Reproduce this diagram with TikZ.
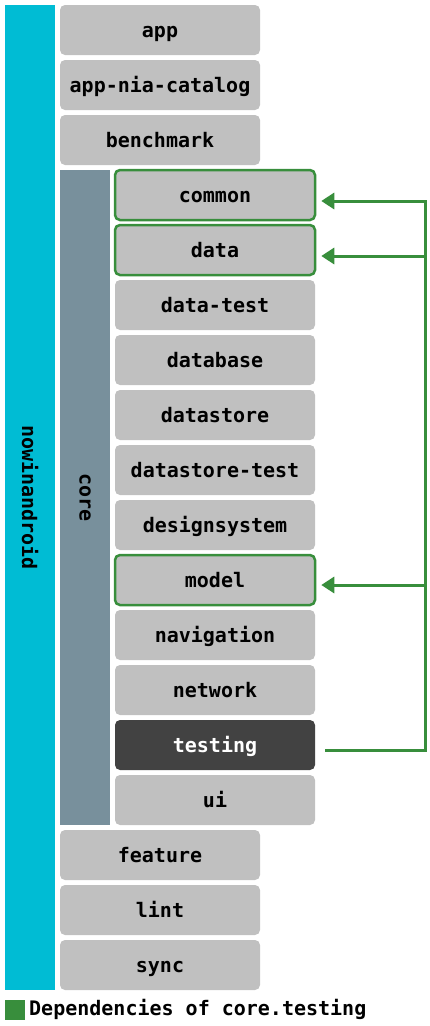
\documentclass[tikz,border=0pt]{standalone}
\usepackage{fontspec}
\setmonofont{DejaVu Sans Mono}
\usepackage{tikz}
\usetikzlibrary{positioning}
\usetikzlibrary{arrows.meta}

\definecolor{nia}{HTML}{00BCD4}
\definecolor{corebar}{HTML}{78909C}
\definecolor{modbox}{HTML}{C0C0C0}
\definecolor{testbox}{HTML}{424242}
\definecolor{depgreen}{HTML}{388E3C}

\tikzset{
	labelfont/.style={font=\ttfamily\bfseries\fontsize{20}{20}\selectfont},
	module/.style={fill=modbox, rounded corners=5pt, minimum width=200pt, minimum height=50pt,
		inner sep=0pt, text height=16pt, text depth=2pt, labelfont},
	depbox/.style={module, draw=depgreen, line width=2.5pt},
	testingbox/.style={module, fill=testbox, text=white},
	dep/.style={draw=depgreen, line width=3pt},
	deparrow/.style={dep, -{Triangle[length=13pt,width=16pt]}}
}

\begin{document}
\begin{tikzpicture}[x=1pt, y=-1pt]
	
	% canvas: same size as the reference, y runs downwards
	\useasboundingbox (0,0) rectangle (430,1026);
	
	% the two vertical bars
	\fill[nia] (5,5) rectangle (55,990);
	\node[rotate=-90, labelfont] (nia) at (30,497.5) {nowinandroid};
	\fill[corebar] (60,170) rectangle (110,825);
	\node[rotate=-90, labelfont] (core) at (85,497.5) {core};
	
	% top level modules
	\node[module] (app) at (160,30) {app};
	\node[module] (catalog) at (160,85) {app-nia-catalog};
	\node[module] (benchmark) at (160,140) {benchmark};
	
	% core modules
	\node[depbox] (common) at (215,195) {common};
	\node[depbox] (data) at (215,250) {data};
	\node[module] (datatest) at (215,305) {data-test};
	\node[module] (database) at (215,360) {database};
	\node[module] (datastore) at (215,415) {datastore};
	\node[module] (datastoretest) at (215,470) {datastore-test};
	\node[module] (designsystem) at (215,525) {designsystem};
	\node[depbox] (model) at (215,580) {model};
	\node[module] (navigation) at (215,635) {navigation};
	\node[module] (network) at (215,690) {network};
	\node[testingbox] (testing) at (215,745) {testing};
	\node[module] (ui) at (215,800) {ui};
	
	% remaining top level modules
	\node[module] (feature) at (160,855) {feature};
	\node[module] (lint) at (160,910) {lint};
	\node[module] (sync) at (160,965) {sync};
	
	%%%%%%%%%%%%%%%%%%%%%%%%%%%%%%%%%%%%%%%%%%%%%%%%%%%%%%%%%%%%%%
	% dependencies of core.testing
	\coordinate (Bus) at (425,750);
	\coordinate (J1) at (425,256);
	\coordinate (J2) at (425,585);
	
	\draw[deparrow] ([shift={(10,5)}]testing.east) -- (Bus) |- ([shift={(5,6)}]common.east);
	\draw[deparrow] (J1) -- ([shift={(5,6)}]data.east);
	\draw[deparrow] (J2) -- ([shift={(5,5)}]model.east);
	
	% legend
	\fill[depgreen] (5,1000) rectangle (25,1020);
	\node[anchor=west, inner sep=0pt, labelfont] (legend) at (29,1009) {Dependencies of core.testing};
	
\end{tikzpicture}
\end{document}
